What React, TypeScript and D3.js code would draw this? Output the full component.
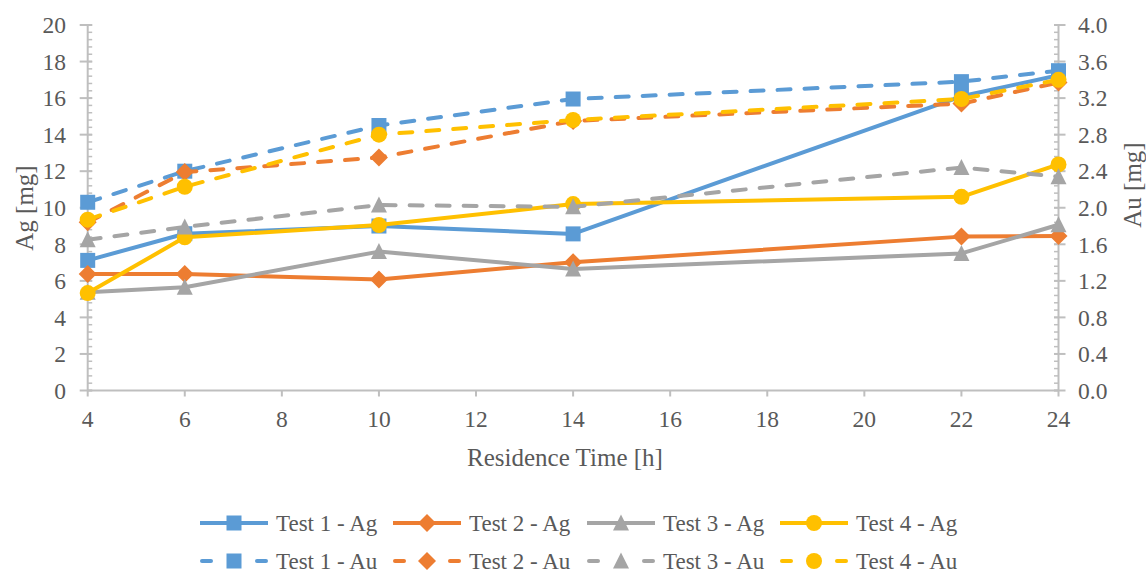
import React from "react";
import * as d3 from "d3";

const hours = [4, 6, 10, 14, 22, 24];
const test1Ag = [7.12, 8.58, 9.0, 8.57, 16.1, 17.25];
const test2Ag = [6.37, 6.37, 6.08, 7.02, 8.42, 8.45];
const test3Ag = [5.38, 5.65, 7.6, 6.65, 7.5, 9.07];
const test4Ag = [5.33, 8.38, 9.05, 10.2, 10.6, 12.37];
const test1Au = [2.06, 2.4, 2.9, 3.19, 3.38, 3.5];
const test2Au = [1.84, 2.39, 2.55, 2.95, 3.14, 3.37];
const test3Au = [1.65, 1.79, 2.03, 2.01, 2.44, 2.34];
const test4Au = [1.87, 2.23, 2.8, 2.96, 3.19, 3.4];

const xTicks = [4, 6, 8, 10, 12, 14, 16, 18, 20, 22, 24];
const agTicks = [0, 2, 4, 6, 8, 10, 12, 14, 16, 18, 20];
const auTicks = [0, 0.4, 0.8, 1.2, 1.6, 2.0, 2.4, 2.8, 3.2, 3.6, 4.0];

const seriesNames = [
  "Test 1 - Ag",
  "Test 2 - Ag",
  "Test 3 - Ag",
  "Test 4 - Ag",
  "Test 1 - Au",
  "Test 2 - Au",
  "Test 3 - Au",
  "Test 4 - Au",
];
const colors = ["#5B9BD5", "#ED7D31", "#A5A5A5", "#FFC000"];
const markers = ["square", "diamond", "triangle", "circle"];

const FONT = "'Liberation Serif', Tinos, 'Times New Roman', 'DejaVu Serif', serif";
const TEXT = "#595959";
const AXIS = "#BFBFBF";

const x = d3.scaleLinear().domain([4, 24]).range([87.7, 1058.5]);
const yAg = d3.scaleLinear().domain([0, 20]).range([390.5, 25]);
const yAu = d3.scaleLinear().domain([0, 4]).range([390.5, 25]);

const textStyle = { fontFamily: FONT };

function Marker({ type, cx, cy, color }: { type: string; cx: number; cy: number; color: string }) {
  if (type === "square") {
    return <rect x={cx - 7.5} y={cy - 7.5} width={15} height={15} fill={color} />;
  }
  if (type === "diamond") {
    const r = 9;
    return (
      <path
        d={`M${cx},${cy - r}L${cx + r},${cy}L${cx},${cy + r}L${cx - r},${cy}Z`}
        fill={color}
      />
    );
  }
  if (type === "triangle") {
    const h = 15;
    const w = 16;
    return (
      <path
        d={`M${cx},${cy - h / 2 - 1}L${cx + w / 2},${cy + h / 2}L${cx - w / 2},${cy + h / 2}Z`}
        fill={color}
      />
    );
  }
  return <circle cx={cx} cy={cy} r={8} fill={color} />;
}

export default function App() {
  const agSeries = [test1Ag, test2Ag, test3Ag, test4Ag];
  const auSeries = [test1Au, test2Au, test3Au, test4Au];

  const lineAg = d3
    .line<number>()
    .x((_, i) => x(hours[i]))
    .y((v) => yAg(v));
  const lineAu = d3
    .line<number>()
    .x((_, i) => x(hours[i]))
    .y((v) => yAu(v));

  const minorAg = d3.range(0, 20.001, 0.4);
  const minorAu = d3.range(0, 4.0001, 0.08);

  const legendX = [200, 393, 587, 780];
  const legendY = [523, 561];

  return (
    <svg
      width={1146}
      height={576}
      style={{ position: "absolute", left: 0, top: 0, background: "#fff", fontFamily: FONT }}
    >
      <rect width={1146} height={576} fill="#fff" />
      <line x1={x(4)} x2={x(24)} y1={yAg(0)} y2={yAg(0)} stroke={AXIS} strokeWidth={2} />
      <line x1={x(4)} x2={x(4)} y1={yAg(0)} y2={yAg(20)} stroke={AXIS} strokeWidth={2} />
      <line x1={x(24)} x2={x(24)} y1={yAu(0)} y2={yAu(4)} stroke={AXIS} strokeWidth={2} />

      {minorAg.map((v, i) => (
        <line key={"ma" + i} x1={x(4)} x2={x(4) + 4.5} y1={yAg(v)} y2={yAg(v)} stroke={AXIS} strokeWidth={1.5} />
      ))}
      {agTicks.map((v) => (
        <line key={"ta" + v} x1={x(4) - 8} x2={x(4) + 4.5} y1={yAg(v)} y2={yAg(v)} stroke={AXIS} strokeWidth={2} />
      ))}
      {minorAu.map((v, i) => (
        <line key={"mu" + i} x1={x(24) - 4.5} x2={x(24)} y1={yAu(v)} y2={yAu(v)} stroke={AXIS} strokeWidth={1.5} />
      ))}
      {auTicks.map((v) => (
        <line key={"tu" + v} x1={x(24) - 4.5} x2={x(24) + 7} y1={yAu(v)} y2={yAu(v)} stroke={AXIS} strokeWidth={2} />
      ))}
      {xTicks.map((v) => (
        <line key={"tx" + v} x1={x(v)} x2={x(v)} y1={yAg(0)} y2={yAg(0) + 6} stroke={AXIS} strokeWidth={2} />
      ))}

      {agTicks.map((v) => (
        <text key={"la" + v} x={66} y={yAg(v)} dy="0.35em" textAnchor="end" fontSize={23.5} fill={TEXT} style={textStyle}>
          {v}
        </text>
      ))}
      {auTicks.map((v) => (
        <text key={"lu" + v} x={1078} y={yAu(v)} dy="0.35em" textAnchor="start" fontSize={23.5} fill={TEXT} style={textStyle}>
          {v.toFixed(1)}
        </text>
      ))}
      {xTicks.map((v) => (
        <text key={"lx" + v} x={x(v)} y={419} dy="0.35em" textAnchor="middle" fontSize={23.5} fill={TEXT} style={textStyle}>
          {v}
        </text>
      ))}

      <text x={565} y={457} dy="0.35em" textAnchor="middle" fontSize={25} fill={TEXT} style={textStyle}>
        Residence Time [h]
      </text>
      <text
        transform={`translate(24,208) rotate(-90)`}
        dy="0.35em"
        textAnchor="middle"
        fontSize={25}
        fill={TEXT}
        style={textStyle}
      >
        Ag [mg]
      </text>
      <text
        transform={`translate(1132,185) rotate(-90)`}
        dy="0.35em"
        textAnchor="middle"
        fontSize={25}
        fill={TEXT}
        style={textStyle}
      >
        Au [mg]
      </text>

      {agSeries.map((s, k) => (
        <g key={"ag" + k}>
          <path d={lineAg(s) || ""} fill="none" stroke={colors[k]} strokeWidth={4} strokeLinejoin="round" strokeLinecap="round" />
          {s.map((v, i) => (
            <Marker key={i} type={markers[k]} cx={x(hours[i])} cy={yAg(v)} color={colors[k]} />
          ))}
        </g>
      ))}
      {auSeries.map((s, k) => (
        <g key={"au" + k}>
          <path
            d={lineAu(s) || ""}
            fill="none"
            stroke={colors[k]}
            strokeWidth={4}
            strokeDasharray="13 14"
            strokeLinejoin="round"
            strokeLinecap="round"
          />
          {s.map((v, i) => (
            <Marker key={i} type={markers[k]} cx={x(hours[i])} cy={yAu(v)} color={colors[k]} />
          ))}
        </g>
      ))}

      {seriesNames.map((name, idx) => {
        const row = idx < 4 ? 0 : 1;
        const k = idx % 4;
        const lx = legendX[k];
        const ly = legendY[row];
        return (
          <g key={"lg" + idx}>
            {row === 0 ? (
              <line x1={lx} x2={lx + 68} y1={ly} y2={ly} stroke={colors[k]} strokeWidth={4} />
            ) : (
              <g>
                <line x1={lx + 2} x2={lx + 11} y1={ly} y2={ly} stroke={colors[k]} strokeWidth={4} strokeLinecap="round" />
                <line x1={lx + 57} x2={lx + 66} y1={ly} y2={ly} stroke={colors[k]} strokeWidth={4} strokeLinecap="round" />
              </g>
            )}
            <Marker type={markers[k]} cx={lx + 34} cy={ly} color={colors[k]} />
            <text x={lx + 76} y={ly} dy="0.35em" fontSize={23} fill={TEXT} style={textStyle}>
              {name}
            </text>
          </g>
        );
      })}
    </svg>
  );
}
